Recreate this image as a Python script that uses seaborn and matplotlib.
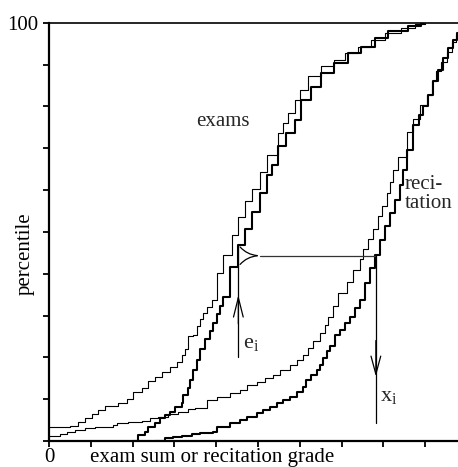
import matplotlib
matplotlib.use("Agg")
import matplotlib.pyplot as plt
import pandas as pd
import seaborn as sns

# exam sum percentiles, thin curve
exam_thin_x = [0, 5.0, 7.0, 8.6, 10.2, 11.8, 13.4, 16.6, 18.6, 20.2, 22.2, 23.8, 25.4, 27.0,
               28.9, 30.6, 31.7, 32.5, 33.3, 34.5, 35.4, 36.1, 36.8, 37.8, 39.0, 40.1, 41.7,
               43.7, 45.3, 46.9, 48.5, 50.5, 52.1, 54.8, 56.0, 57.2, 58.8, 60.0, 62.0, 65.1,
               68.3, 70.7, 73.9, 77.1, 80.3, 84.3, 87.5, 89.9]
exam_thin_p = [3.3, 3.6, 4.6, 5.4, 6.5, 7.4, 8.4, 9.0, 10.0, 11.8, 12.6, 14.4, 15.4, 16.6,
               17.8, 19.0, 20.6, 21.9, 25.1, 25.4, 27.5, 29.2, 30.6, 32.1, 33.7, 40.1, 44.5,
               49.3, 53.6, 57.4, 60.3, 64.4, 68.4, 73.6, 76.0, 78.4, 81.6, 84.0, 87.2, 89.6,
               91.1, 92.7, 94.3, 95.9, 97.5, 98.7, 99.8, 100]

# exam sum percentiles, thick curve
exam_thick_x = [20.2, 21.4, 23.0, 23.8, 25.4, 26.6, 27.8, 28.9, 30.1, 31.7, 32.1, 33.3, 33.7,
                34.5, 35.3, 36.1, 37.3, 38.5, 39.3, 40.1, 40.9, 41.7, 43.3, 45.3, 46.9, 48.5,
                50.5, 52.1, 53.3, 54.8, 56.8, 58.8, 60.4, 62.8, 65.1, 68.3, 71.5, 74.7, 77.9,
                81.1, 85.9, 89.1, 89.7]
exam_thick_p = [0, 1.4, 2.2, 3.4, 4.2, 5.4, 6.2, 7.0, 8.2, 9.0, 11.0, 12.6, 14.6,
                17.0, 19.4, 21.9, 24.3, 26.3, 28.3, 30.3, 32.3, 34.4, 41.7, 46.9, 50.8, 54.8,
                59.2, 63.6, 66.0, 70.5, 73.6, 76.8, 81.6, 84.7, 87.9, 90.4, 92.7, 94.3, 96.3,
                97.9, 99.1, 99.9, 100]

# recitation grade percentiles, thin curve
rec_thin_x = [0, 2.6, 4.2, 6.2, 8.6, 11.0, 13.4, 15.4, 16.2, 19.0, 22.2, 24.2, 26.1, 28.5,
              30.9, 33.3, 34.9, 37.7, 40.1, 43.3, 45.7, 47.3, 49.7, 51.7, 53.7, 55.3, 57.7,
              59.3, 60.8, 62.0, 63.2, 64.8, 66.0, 66.8, 68.0, 69.2, 71.2, 72.8, 74.4, 75.2,
              76.4, 77.6, 78.8, 79.6, 80.8, 81.6, 82.4, 83.6, 85.6, 87.2, 88.8, 90.4, 91.6,
              92.7, 93.9, 95.1, 96.3, 97.4, 99.0]
rec_thin_p = [1.3, 1.7, 2.2, 2.6, 3.0, 3.3, 3.4, 3.8, 4.4, 4.6, 4.9, 5.4, 5.8, 6.5,
              7.0, 7.6, 8.0, 9.8, 10.6, 11.4, 12.2, 13.4, 14.2, 15.0, 15.8, 17.0, 18.2,
              19.4, 20.6, 22.2, 23.8, 25.8, 27.8, 29.7, 32.3, 35.3, 38.1, 40.9, 43.5, 45.9,
              48.3, 50.7, 53.7, 56.1, 59.3, 62.0, 64.8, 68.0, 73.9, 77.0, 80.4, 82.8, 86.0,
              88.4, 90.7, 93.1, 95.5, 97.1, 100]

# recitation grade percentiles, thick curve
rec_thick_x = [25.4, 27.8, 29.7, 31.7, 34.1, 36.1, 39.3, 40.1, 43.3, 45.7, 47.3, 49.7, 51.3,
               52.9, 54.5, 56.1, 57.7, 59.3, 60.8, 61.6, 62.8, 64.0, 64.8, 65.6, 66.4, 67.2,
               68.4, 69.6, 70.8, 72.0, 73.2, 74.4, 75.6, 76.8, 78.0, 79.2, 80.4, 81.6, 82.8,
               84.0, 84.8, 85.6, 87.2, 88.4, 89.5, 90.7, 91.9, 93.1, 94.3, 95.5, 96.7, 97.5,
               99.2]
rec_thick_p = [0, 0.6, 1.0, 1.2, 1.7, 1.8, 2.2, 3.4, 4.2, 5.0, 5.8, 6.6, 7.4,
               8.2, 9.0, 9.8, 10.6, 11.8, 13.0, 14.6, 15.8, 17.0, 18.2, 19.8, 21.4, 22.6,
               25.4, 26.6, 28.2, 29.7, 31.7, 33.7, 37.7, 41.3, 44.5, 48.1, 51.3, 54.5, 57.7,
               61.2, 64.8, 69.6, 75.6, 78.0, 80.0, 82.8, 86.0, 88.8, 91.6, 93.9, 95.9, 97.5,
               100]

# one student: exam score e_i sits on a riser of the thick exam curve
e_i = 45.3
riser_lo, riser_hi = 41.7, 46.9
x_i = 78.2

sns.set_theme(style="ticks")
plt.rcParams["font.family"] = ["Liberation Serif", "DejaVu Serif"]
plt.rcParams["mathtext.fontset"] = "custom"
plt.rcParams["mathtext.rm"] = "Liberation Serif"
plt.rcParams["mathtext.it"] = "Liberation Serif"

fig = plt.figure(figsize=(4.58, 4.67), dpi=100)
ax = fig.add_axes([49 / 458, 26 / 467, 409 / 458, 418.3 / 467])

curvas = [
    (exam_thin_x, exam_thin_p, 0.8),
    (exam_thick_x, exam_thick_p, 1.5),
    (rec_thin_x, rec_thin_p, 0.8),
    (rec_thick_x, rec_thick_p, 1.5),
]
for xs, ps, lw in curvas:
    df = pd.DataFrame({"grade": xs, "pct": ps})
    sns.lineplot(data=df, x="grade", y="pct", ax=ax, color="black", linewidth=lw,
                 drawstyle="steps-post", estimator=None, sort=False)

# mapping e_i -> percentile -> x_i
mid = (riser_lo + riser_hi) / 2
tip = e_i + 5.2
ax.plot([e_i, e_i], [20.2, riser_hi], color="black", lw=0.9)
ax.annotate("", xy=(tip, mid), xytext=(e_i, riser_hi),
            arrowprops=dict(arrowstyle="-", lw=0.9, color="black",
                            connectionstyle="arc3,rad=0.25"))
ax.annotate("", xy=(tip, mid), xytext=(e_i, riser_lo),
            arrowprops=dict(arrowstyle="-", lw=0.9, color="black",
                            connectionstyle="arc3,rad=-0.25"))
ax.plot([tip, x_i], [mid, mid], color="#333333", lw=0.9)
ax.plot([x_i, x_i], [mid, 4.4], color="black", lw=0.9)
ax.annotate("", xy=(e_i, 34.9), xytext=(e_i, 28),
            arrowprops=dict(arrowstyle="->,head_length=1.4,head_width=0.35",
                            lw=0.9, color="black", mutation_scale=10, shrinkA=0, shrinkB=0))
ax.annotate("", xy=(x_i, 15.4), xytext=(x_i, 24),
            arrowprops=dict(arrowstyle="->,head_length=1.3,head_width=0.35",
                            lw=0.9, color="black", mutation_scale=10, shrinkA=0, shrinkB=0))

ax.text(35.3, 76.3, "exams", fontsize=15, ha="left", va="center")
ax.text(85.0, 59.0, "reci-\ntation", fontsize=15, ha="left", va="center", linespacing=1.0)
ax.text(46.3, 23.4, r"$\mathrm{e_i}$", fontsize=16, ha="left", va="center")
ax.text(79.3, 10.6, r"$\mathrm{x_i}$", fontsize=16, ha="left", va="center")

ax.set_xlim(0, 97.85)
ax.set_ylim(0, 100)
ax.set_xticks(range(0, 100, 10))
ax.set_xticklabels(["0"] + [""] * 9)
ax.set_yticks(range(0, 101, 10))
ax.set_yticklabels([""] * 10 + ["100"])
ax.tick_params(axis="both", direction="out", length=4, width=1.3, labelsize=15,
               color="black", labelcolor="black")
ax.tick_params(axis="y", pad=4)
ax.tick_params(axis="x", pad=1)

ax.set_xlabel("exam sum or recitation grade", fontsize=15, color="black")
ax.xaxis.set_label_coords(0.40, -0.016)
ax.xaxis.label.set_va("top")
ax.set_ylabel("percentile", fontsize=15, color="black")
ax.yaxis.set_label_coords(-0.059, 0.447)
ax.yaxis.label.set_va("center")

for side in ["left", "bottom"]:
    ax.spines[side].set_linewidth(1.6)
    ax.spines[side].set_color("black")
ax.spines["top"].set_visible(True)
ax.spines["top"].set_linewidth(1.2)
ax.spines["top"].set_color("black")
ax.spines["right"].set_visible(False)
ax.grid(False)

fig.savefig("out.png", dpi=100)
